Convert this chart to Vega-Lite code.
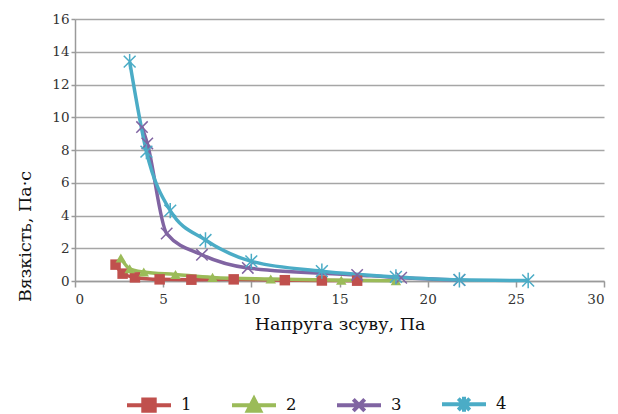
{
  "$schema": "https://vega.github.io/schema/vega-lite/v6.json",
  "width": 529,
  "height": 262,
  "autosize": {"type": "none"},
  "padding": {"left": 75, "top": 19, "right": 14, "bottom": 133},
  "background": "white",
  "config": {
    "view": {"stroke": null},
    "font": "DejaVu Serif",
    "axis": {"labelFont": "DejaVu Serif", "titleFont": "DejaVu Serif", "labelColor": "#333333", "titleColor": "#111111", "titleFontWeight": "normal"},
    "legend": {"labelFont": "DejaVu Serif"}
  },
  "data": {
    "values": [
      {"series": "1", "x": 2.3, "y": 1.0},
      {"series": "1", "x": 2.7, "y": 0.45},
      {"series": "1", "x": 3.4, "y": 0.22},
      {"series": "1", "x": 4.8, "y": 0.1},
      {"series": "1", "x": 6.6, "y": 0.08},
      {"series": "1", "x": 9.0, "y": 0.1},
      {"series": "1", "x": 11.9, "y": 0.05},
      {"series": "1", "x": 14.0, "y": 0.03},
      {"series": "1", "x": 16.0, "y": 0.02},
      {"series": "2", "x": 2.6, "y": 1.4},
      {"series": "2", "x": 3.1, "y": 0.75},
      {"series": "2", "x": 3.9, "y": 0.55},
      {"series": "2", "x": 5.7, "y": 0.4},
      {"series": "2", "x": 7.8, "y": 0.22},
      {"series": "2", "x": 11.1, "y": 0.12},
      {"series": "2", "x": 15.1, "y": 0.05},
      {"series": "2", "x": 18.2, "y": 0.02},
      {"series": "3", "x": 3.8, "y": 9.4},
      {"series": "3", "x": 4.1, "y": 8.4},
      {"series": "3", "x": 5.2, "y": 2.9},
      {"series": "3", "x": 7.2, "y": 1.6},
      {"series": "3", "x": 9.8, "y": 0.8},
      {"series": "3", "x": 16.0, "y": 0.37},
      {"series": "3", "x": 18.5, "y": 0.2},
      {"series": "3", "x": 21.8, "y": 0.06},
      {"series": "4", "x": 3.1, "y": 13.4},
      {"series": "4", "x": 4.05, "y": 7.9},
      {"series": "4", "x": 5.4, "y": 4.3},
      {"series": "4", "x": 7.4, "y": 2.5},
      {"series": "4", "x": 10.0, "y": 1.2},
      {"series": "4", "x": 14.0, "y": 0.6},
      {"series": "4", "x": 18.2, "y": 0.25},
      {"series": "4", "x": 21.8, "y": 0.07},
      {"series": "4", "x": 25.7, "y": 0.03}
    ]
  },
  "encoding": {
    "x": {
      "field": "x", "type": "quantitative",
      "scale": {"domain": [0, 30], "nice": false},
      "axis": {
        "title": "Напруга зсуву, Па", "titleFontSize": 17.5, "titlePadding": 10,
        "values": [0, 5, 10, 15, 20, 25, 30], "grid": false,
        "domainColor": "#9a9a9a", "domainWidth": 1.5, "tickColor": "#9a9a9a", "tickWidth": 1.5, "tickSize": 6,
        "labelFontSize": 13.5, "labelPadding": 5
      }
    },
    "y": {
      "field": "y", "type": "quantitative",
      "scale": {"domain": [0, 16], "nice": false},
      "axis": {
        "title": "Вязкість, Па·с", "titleFontSize": 17.5, "titleX": -50, "titleY": 217, "titleAngle": -90, "titleBaseline": "middle",
        "values": [0, 2, 4, 6, 8, 10, 12, 14, 16], "grid": true, "gridColor": "#a6a6a6", "gridWidth": 1.5,
        "domainColor": "#9a9a9a", "domainWidth": 1.5, "tickColor": "#9a9a9a", "tickWidth": 1.5, "tickSize": 4,
        "labelFontSize": 13.5, "labelPadding": 2
      }
    },
    "color": {
      "field": "series", "type": "nominal",
      "scale": {"domain": ["1", "2", "3", "4"], "range": ["#c0504d", "#9bbb59", "#8064a2", "#4bacc6"]},
      "legend": {
        "title": null, "orient": "none", "legendX": 50, "legendY": 361, "direction": "horizontal",
        "symbolSize": 1936, "symbolStrokeWidth": 4, "labelFontSize": 16.5, "labelColor": "#111111",
        "labelOffset": 8, "columnPadding": 32, "padding": 0,
        "encode": {
          "symbols": {
            "update": {
              "shape": {"signal": "datum.value === '1' ? 'M-1,0H1M-0.26,-0.26H0.26V0.26H-0.26Z' : datum.value === '2' ? 'M-1,0H1M-0.28,0.24L0,-0.3L0.28,0.24Z' : datum.value === '3' ? 'M-1,0H1M-0.26,-0.26L0.26,0.26M-0.26,0.26L0.26,-0.26' : 'M-1,0H1M-0.26,-0.26L0.26,0.26M-0.26,0.26L0.26,-0.26M0,-0.34V0.34'"},
              "fill": {"scale": "color", "field": "value"},
              "stroke": {"scale": "color", "field": "value"},
              "strokeWidth": {"value": 4},
              "fillOpacity": {"value": 1}
            }
          }
        }
      }
    }
  },
  "layer": [
    {
      "mark": {"type": "line", "interpolate": "monotone", "strokeWidth": 3.5}
    },
    {
      "transform": [{"filter": "datum.series === '1'"}],
      "mark": {"type": "point", "filled": true, "opacity": 1, "shape": "square", "size": 110}
    },
    {
      "transform": [{"filter": "datum.series === '2'"}],
      "mark": {"type": "point", "filled": true, "opacity": 1, "shape": "triangle-up", "size": 110}
    },
    {
      "transform": [{"filter": "datum.series === '3'"}],
      "mark": {"type": "point", "filled": false, "opacity": 1, "strokeWidth": 1.5, "shape": "M-1,-1L1,1M-1,1L1,-1", "size": 130}
    },
    {
      "transform": [{"filter": "datum.series === '4'"}],
      "mark": {"type": "point", "filled": false, "opacity": 1, "strokeWidth": 1.5, "shape": "M-1,-1L1,1M-1,1L1,-1M0,-1.3V1.3", "size": 140}
    }
  ]
}
